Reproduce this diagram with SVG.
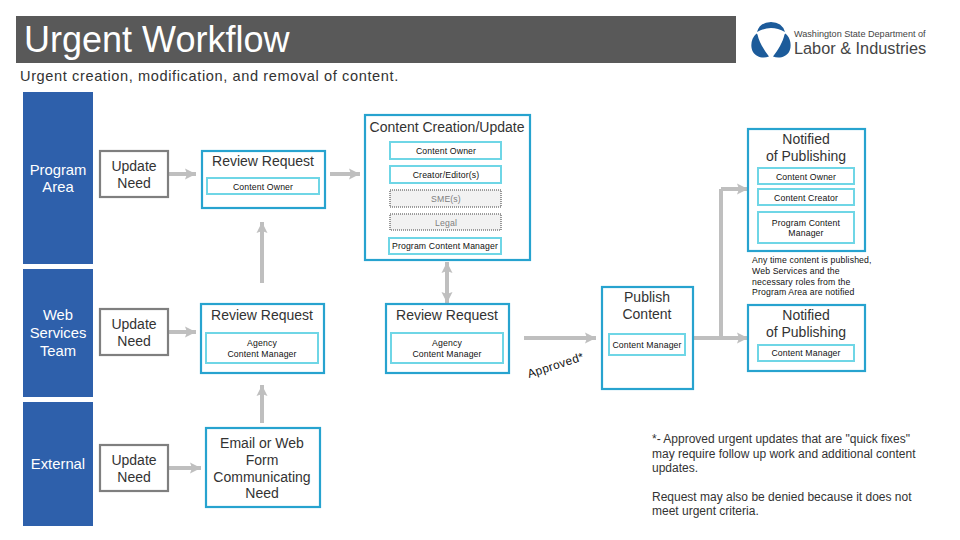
<svg xmlns="http://www.w3.org/2000/svg" width="960" height="540" viewBox="0 0 960 540">
<style>
text{font-family:"Liberation Sans",Arial,sans-serif;fill:#333}
.c{text-anchor:middle}
.m{font-size:14px}
.s{font-size:8.7px;letter-spacing:.14px;fill:#111}
.b{fill:#2E60AB}
.bt{font-size:14.8px;fill:#fff;text-anchor:middle}
.g{fill:#fff;stroke:#7F7F7F;stroke-width:2.2}
.o{fill:#fff;stroke:#27A3CF;stroke-width:2.2}
.i{fill:#fff;stroke:#6FD6E6;stroke-width:2}
.d{fill:#F2F2F2;stroke:#7F7F7F;stroke-width:1.6;stroke-dasharray:1 1}
.l{fill:none;stroke:#BFBFBF;stroke-width:4}
.a{marker-end:url(#ah)}
.lg{fill:#1C5B9A}
</style>
<defs><marker id="ah" markerUnits="userSpaceOnUse" markerWidth="12" markerHeight="14" refX="11" refY="7" orient="auto-start-reverse"><path d="M0 1.5L11 7L0 12.5L2 7Z" fill="#BFBFBF"/></marker></defs>
<rect width="960" height="540" fill="#fff"/>
<g id="header">
<rect x="16" y="16" width="720" height="47" fill="#595959"/>
<text x="24" y="52" font-size="36" style="fill:#fff">Urgent Workflow</text>
<text x="20" y="81" font-size="14.6" letter-spacing=".6">Urgent creation, modification, and removal of content.</text>
</g>
<g id="logo">
<path class="lg" d="M757 32Q760 22 771 22Q782 22 785 32Q771 24 757 32Z"/>
<path class="lg" d="M756.5 33.5C751 38 750 47 753 52C756 57 763 59 769 56.5C764 50 759 42 757.5 34.5Z"/>
<path class="lg" d="M785.5 33.5C791 38 792 47 789 52C786 57 779 59 773 56.5C778 50 783 42 784.5 34.5Z"/>
<text x="794" y="37" font-size="9.1" style="fill:#444">Washington State Department of</text>
<text x="794" y="54" font-size="16.3" style="fill:#444">Labor &amp; Industries</text>
</g>
<g id="lane-program"><rect class="b" x="23" y="92" width="70" height="172"/><text class="bt" x="58" y="175">Program</text><text class="bt" x="58" y="192">Area</text></g>
<g id="lane-web"><rect class="b" x="23" y="269" width="70" height="128"/><text class="bt" x="58" y="320">Web</text><text class="bt" x="58" y="338">Services</text><text class="bt" x="58" y="356">Team</text></g>
<g id="lane-external"><rect class="b" x="23" y="402" width="70" height="124"/><text class="bt" x="58" y="469">External</text></g>

<g id="connectors">
<path class="l a" d="M169 174H196"/>
<path class="l a" d="M169 332H196"/>
<path class="l a" d="M169 468H201"/>
<path class="l a" d="M330 174H360"/>
<path class="l a" d="M262 283V222"/>
<path class="l a" d="M262 423V385"/>
<path class="l a" style="marker-start:url(#ah)" d="M447 262V303"/>
<path class="l a" d="M524 338H596"/>
<path class="l" d="M694 338H721V189"/>
<path class="l a" d="M721 189H748"/>
<path class="l a" d="M694 338H748"/>
</g>

<g id="update-1"><rect class="g" x="100" y="151" width="68" height="46"/><text class="m c" x="134" y="171">Update</text><text class="m c" x="134" y="188">Need</text></g>
<g id="update-2"><rect class="g" x="100" y="309" width="68" height="46"/><text class="m c" x="134" y="329">Update</text><text class="m c" x="134" y="346">Need</text></g>
<g id="update-3"><rect class="g" x="100" y="445" width="68" height="46"/><text class="m c" x="134" y="465">Update</text><text class="m c" x="134" y="482">Need</text></g>

<g id="review-1"><rect class="o" x="202" y="151" width="123" height="57"/><text class="m c" x="263" y="166">Review Request</text><rect class="i" x="207" y="178" width="112" height="16"/><text class="s c" x="263" y="190">Content Owner</text></g>
<g id="review-2"><rect class="o" x="201" y="304" width="123" height="69"/><text class="m c" x="262" y="320">Review Request</text><rect class="i" x="206" y="333" width="112" height="30"/><text class="s c" x="262" y="346">Agency</text><text class="s c" x="262" y="357">Content Manager</text></g>
<g id="review-3"><rect class="o" x="386" y="304" width="123" height="69"/><text class="m c" x="447" y="320">Review Request</text><rect class="i" x="391" y="333" width="112" height="30"/><text class="s c" x="447" y="346">Agency</text><text class="s c" x="447" y="357">Content Manager</text></g>
<g id="email-form"><rect class="o" x="206" y="428" width="114" height="79"/><text class="m c" x="262" y="448">Email or Web</text><text class="m c" x="262" y="465">Form</text><text class="m c" x="262" y="482">Communicating</text><text class="m c" x="262" y="498">Need</text></g>

<g id="content-creation"><rect class="o" x="365" y="115" width="165" height="145"/><text class="m c" x="447" y="132">Content Creation/Update</text>
<rect class="i" x="390" y="142" width="111" height="17"/><text class="s c" x="446" y="154">Content Owner</text>
<rect class="i" x="390" y="166" width="111" height="17"/><text class="s c" x="446" y="178">Creator/Editor(s)</text>
<rect class="d" x="390" y="190" width="111" height="17"/><text class="s c" x="446" y="202" style="fill:#808080">SME(s)</text>
<rect class="d" x="390" y="214" width="111" height="16"/><text class="s c" x="446" y="226" style="fill:#808080">Legal</text>
<rect class="i" x="389" y="238" width="112" height="16"/><text class="s c" x="445" y="249">Program Content Manager</text></g>

<g id="publish"><rect class="o" x="602" y="287" width="91" height="102"/><text class="m c" x="647" y="302">Publish</text><text class="m c" x="647" y="319">Content</text><rect class="i" x="609" y="334" width="76" height="21"/><text class="s c" x="647" y="348">Content Manager</text></g>

<g id="notified-1"><rect class="o" x="748" y="129" width="117" height="122"/><text class="m c" x="806" y="144">Notified</text><text class="m c" x="806" y="161">of Publishing</text>
<rect class="i" x="758" y="168" width="96" height="16"/><text class="s c" x="806" y="180">Content Owner</text>
<rect class="i" x="758" y="189" width="96" height="16"/><text class="s c" x="806" y="201">Content Creator</text>
<rect class="i" x="758" y="212" width="96" height="31"/><text class="s c" x="806" y="226">Program Content</text><text class="s c" x="806" y="236">Manager</text></g>

<g id="notified-2"><rect class="o" x="748" y="305" width="117" height="66"/><text class="m c" x="806" y="320">Notified</text><text class="m c" x="806" y="337">of Publishing</text><rect class="i" x="758" y="345" width="96" height="16"/><text class="s c" x="806" y="356">Content Manager</text></g>

<g id="notes">
<text class="s" x="752" y="263">Any time content is published,</text>
<text class="s" x="752" y="274">Web Services and the</text>
<text class="s" x="752" y="285">necessary roles from the</text>
<text class="s" x="752" y="295">Program Area are notified</text>
<text font-size="11.8" letter-spacing=".4" transform="translate(529 378) rotate(-18)" style="fill:#111">Approved*</text>
<text font-size="12" x="652" y="443">*- Approved urgent updates that are "quick fixes"</text>
<text font-size="12" x="652" y="458">may require follow up work and additional content</text>
<text font-size="12" x="652" y="472">updates.</text>
<text font-size="12" x="652" y="501">Request may also be denied because it does not</text>
<text font-size="12" x="652" y="515">meet urgent criteria.</text>
</g>
</svg>
